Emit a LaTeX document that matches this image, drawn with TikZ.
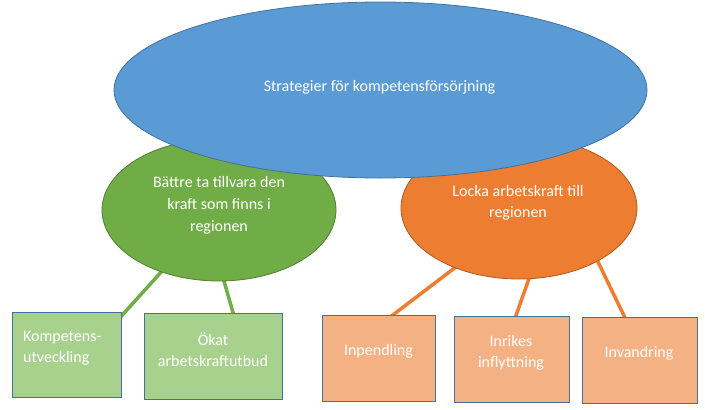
\documentclass[tikz,border=0pt]{standalone}
\usepackage{fontspec}
\setmainfont{Carlito}
\usetikzlibrary{shapes.geometric,calc,backgrounds}
\definecolor{bluefill}{HTML}{5B9BD5}
\definecolor{blueline}{HTML}{41719C}
\definecolor{greenfill}{HTML}{70AD47}
\definecolor{greenline}{HTML}{507E32}
\definecolor{orangefill}{HTML}{ED7D31}
\definecolor{orangeline}{HTML}{AE5A21}
\definecolor{lgreen}{HTML}{A9D18E}
\definecolor{lorange}{HTML}{F4B183}
\begin{document}
\begin{tikzpicture}[x=1pt,y=-1pt,
  oval/.style={ellipse,inner sep=0pt,outer sep=0pt,line width=0.8pt},
  boxshape/.style={rectangle,inner sep=0pt,outer sep=0pt,line width=0.8pt,draw=blueline,anchor=north west},
  labeltext/.style={text=white,font=\fontsize{16}{21}\selectfont,align=center,inner sep=0pt},
  link/.style={line width=3.5pt,shorten <=-6pt}]
\useasboundingbox (0,0) rectangle (705,410);
% ellipses
\node[oval,fill=greenfill,draw=greenline,minimum width=234pt,minimum height=142pt] (g) at (219,210) {};
\node[oval,fill=orangefill,draw=orangeline,minimum width=236pt,minimum height=142pt] (o) at (519,208) {};
\node[oval,fill=bluefill,draw=blueline,minimum width=533pt,minimum height=176pt] (s) at (380.5,90) {};
% boxes
\node[boxshape,fill=lgreen,minimum width=109pt,minimum height=85pt] (b1) at (12,312) {};
\node[boxshape,fill=lgreen,minimum width=138pt,minimum height=86pt] (b2) at (144,313) {};
\node[boxshape,fill=lorange,minimum width=113pt,minimum height=86pt] (b3) at (322,315) {};
\node[boxshape,fill=lorange,minimum width=115pt,minimum height=86pt] (b4) at (454,316) {};
\node[boxshape,fill=lorange,minimum width=115pt,minimum height=86pt] (b5) at (582,317) {};
% connectors
\begin{scope}[on background layer]
\draw[link,greenfill] (g.227.9) -- ($(b1.north east)+(-5,10)$);
\draw[link,greenfill] (g.274) -- ($(b2.north)+(23,10)$);
\draw[link,orangefill] (o.223.2) -- ($(b3.north)+(6.5,6)$);
\draw[link,orangefill] (o.278.8) -- ($(b4.north)+(1.5,8)$);
\draw[link,orangefill] (o.326.3) -- ($(b5.north)+(-10.5,9)$);
\end{scope}
% texts
\node[labeltext] (ts) at (379.5,87) {Strategier för kompetensförsörjning};
\node[labeltext,font=\fontsize{16}{22}\selectfont] (tg) at (219,205) {Bättre ta tillvara den\\kraft som finns i\\regionen};
\node[labeltext] (to) at (518,203) {Locka arbetskraft till\\regionen};
\node[labeltext,align=left,anchor=west] (t1) at (23,348.5) {Kompetens-\\utveckling};
\node[labeltext] (t2) at (213,349.5) {Ökat\\arbetskraftutbud};
\node[labeltext] (t3) at (378.5,351) {Inpendling};
\node[labeltext] (t4) at (511,352.5) {Inrikes\\inflyttning};
\node[labeltext] (t5) at (639,353) {Invandring};
\end{tikzpicture}
\end{document}
